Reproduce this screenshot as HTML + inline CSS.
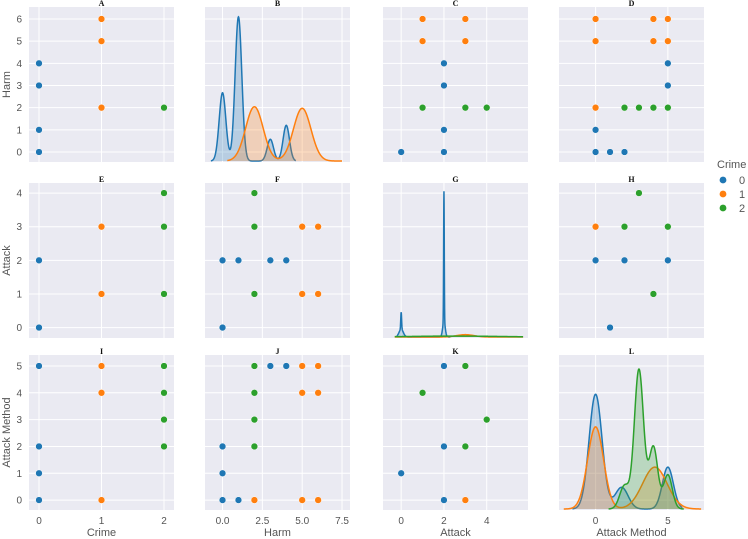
<!DOCTYPE html>
<html><head><meta charset="utf-8">
<style>
html,body{margin:0;padding:0;background:#fff;}
svg{display:block;font-family:"Liberation Sans",sans-serif;}
.tick{fill:#555;font-size:10px;}
.alab{fill:#555;font-size:11px;}
.ttl{font-family:"Liberation Serif",serif;font-weight:bold;font-size:8px;fill:#111;}
</style></head>
<body>
<svg id="chart" width="748" height="539" viewBox="0 0 748 539" xmlns="http://www.w3.org/2000/svg"></svg>
<script>
// ---- data ----
const crimeColors = ["#1f77b4","#ff7f0e","#2ca02c"];
const colNames = ["Crime","Harm","Attack","Attack Method"];
const rowNames = ["Harm","Attack","Attack Method"];
const colTicks = [[0,1,2],[0,2.5,5,7.5],[0,2,4],[0,5]];
const colTickLabels = [["0","1","2"],["0.0","2.5","5.0","7.5"],["0","2","4"],["0","5"]];
const rowTicks = [[0,1,2,3,4,5,6],[0,1,2,3,4],[0,1,2,3,4,5]];
const panelTitles = [["A","B","C","D"],["E","F","G","H"],["I","J","K","L"]];
// scatter points per panel: [x, y, crime]
const ptsA = [[0,0,0],[0,1,0],[0,3,0],[0,4,0],[1,2,1],[1,5,1],[1,6,1],[2,2,2]];
const ptsC = [[1,6,1],[3,6,1],[1,5,1],[3,5,1],[2,4,0],[2,3,0],[2,1,0],[0,0,0],[2,0,0],[1,2,2],[3,2,2],[4,2,2]];
const ptsD = [[0,6,1],[4,6,1],[5,6,1],[0,5,1],[4,5,1],[5,5,1],[0,2,1],[5,4,0],[5,3,0],[0,1,0],[0,0,0],[1,0,0],[2,0,0],[2,2,2],[3,2,2],[4,2,2],[5,2,2]];
const ptsE = [[0,2,0],[0,0,0],[1,3,1],[1,1,1],[2,4,2],[2,3,2],[2,1,2]];
const ptsF = [[2,4,2],[2,3,2],[2,1,2],[5,3,1],[6,3,1],[5,1,1],[6,1,1],[0,2,0],[1,2,0],[3,2,0],[4,2,0],[0,0,0]];
const ptsH = [[3,4,2],[0,3,1],[2,3,2],[5,3,2],[0,2,0],[2,2,0],[5,2,0],[4,1,2],[1,0,0]];
const ptsI = [[0,5,0],[0,2,0],[0,1,0],[0,0,0],[1,5,1],[1,4,1],[1,0,1],[2,5,2],[2,4,2],[2,3,2],[2,2,2]];
const ptsJ = [[2,5,2],[2,4,2],[2,3,2],[2,2,2],[3,5,0],[4,5,0],[0,2,0],[0,1,0],[0,0,0],[1,0,0],[5,5,1],[6,5,1],[5,4,1],[6,4,1],[2,0,1],[5,0,1],[6,0,1]];
const ptsK = [[2,5,0],[2,2,0],[0,1,0],[2,0,0],[3,5,2],[1,4,2],[4,3,2],[3,2,2],[3,0,1]];
// KDE components per crime: [center, peak density (fraction of panel height), sigma]
const kdeB = [
  [[0,0.44,0.21],[1,0.93,0.21],[3,0.14,0.2],[4,0.23,0.2]],
  [[2,0.35,0.55],[5,0.34,0.55]],
  []
];
const kdeG = [
  [[0,0.11,0.02],[0,0.05,0.1],[2,0.84,0.015],[2,0.1,0.06]],
  [[3,0.015,0.4]],
  [[2.5,0.006,2]]
];
const kdeL = [
  [[0,0.74,0.45],[1.8,0.14,0.45],[5,0.27,0.38]],
  [[0,0.53,0.55],[4.1,0.27,0.85]],
  [[2,0.15,0.33],[3,0.9,0.32],[4,0.4,0.3],[5,0.22,0.3]]
];
// ---- layout ----
const colX = [29,205,383,559], colW = 145;
const rowY = [7,183,355], rowH = 155;
const colDom = [[-0.16,2.16],[-1.1,8.0],[-0.85,5.93],[-2.53,7.5]];
const rowDom = [[-0.45,6.54],[-0.31,4.3],[-0.37,5.41]];
const svg = document.getElementById('chart');
const NS = "http://www.w3.org/2000/svg";
function mk(tag, attrs, parent){const e=document.createElementNS(NS,tag);for(const k in attrs)e.setAttribute(k,attrs[k]);(parent||svg).appendChild(e);return e;}
function sx(c,v){const d=colDom[c];return colX[c]+(v-d[0])/(d[1]-d[0])*colW;}
function sy(r,v){const d=rowDom[r];return rowY[r]+rowH-(v-d[0])/(d[1]-d[0])*rowH;}

for(let r=0;r<3;r++){for(let c=0;c<4;c++){
  const g=mk('g',{});
  
  
  const bg=mk('rect',{x:colX[c],y:rowY[r],width:colW,height:rowH,fill:'#EAEAF2'},g);
  
  
  colTicks[c].forEach(t=>{const x=sx(c,t);mk('line',{x1:x,x2:x,y1:rowY[r],y2:rowY[r]+rowH,stroke:'#fff','stroke-width':1},g);});
  rowTicks[r].forEach(t=>{const y=sy(r,t);mk('line',{x1:colX[c],x2:colX[c]+colW,y1:y,y2:y,stroke:'#fff','stroke-width':1},g);});
  const tt=mk('text',{x:colX[c]+colW/2,y:rowY[r]-1,'text-anchor':'middle',class:'ttl'},g);
  tt.textContent=panelTitles[r][c];
  
  
}}
function scatter(r,c,pts){
  pts.forEach(p=>{
    const m=mk('circle',{cx:sx(c,p[0]),cy:sy(r,p[1]),r:3.4,fill:crimeColors[p[2]],stroke:'#fff','stroke-width':0.5});
    
    
  });
}
scatter(0,0,ptsA);scatter(0,2,ptsC);scatter(0,3,ptsD);
scatter(1,0,ptsE);scatter(1,1,ptsF);scatter(1,3,ptsH);
scatter(2,0,ptsI);scatter(2,1,ptsJ);scatter(2,2,ptsK);

function kde(r,c,comps,ranges){
  const base=rowY[r]+rowH-1;
  comps.forEach((cs,k)=>{
    if(!cs.length)return;
    const rg=ranges[k];
    let d='';const N=400;
    for(let i=0;i<=N;i++){
      const v=rg[0]+(rg[1]-rg[0])*i/N;
      let s=0;cs.forEach(q=>{s+=q[1]*Math.exp(-0.5*Math.pow((v-q[0])/q[2],2));});
      const x=sx(c,v),y=base-s*rowH;
      d+=(i?'L':'M')+x.toFixed(2)+' '+y.toFixed(2);
    }
    const area=mk('path',{d:d+'L'+sx(c,rg[1])+' '+base+'L'+sx(c,rg[0])+' '+base+'Z',fill:crimeColors[k],'fill-opacity':0.25,stroke:'none'});
    
    
    const ln=mk('path',{d:d,fill:'none',stroke:crimeColors[k],'stroke-width':1.5});
    
    
  });
}
kde(0,1,kdeB,[[-0.73,4.6],[0.3,7.5],[0,0]]);
kde(1,2,kdeG,[[-0.2,2.3],[-0.3,5.7],[-0.3,5.7]]);
kde(2,3,kdeL,[[-1.6,6],[-2.2,7.3],[0.9,6.1]]);

// tick labels
for(let c=0;c<4;c++){
  colTicks[c].forEach((t,i)=>{
    const e=mk('text',{x:sx(c,t),y:524,'text-anchor':'middle',class:'tick'});
    e.textContent=colTickLabels[c][i];
    
    
  });
  const l=mk('text',{x:colX[c]+colW/2,y:536,'text-anchor':'middle',class:'alab'});
  l.textContent=colNames[c];
  
  
}
for(let r=0;r<3;r++){
  rowTicks[r].forEach(t=>{
    const e=mk('text',{x:22,y:sy(r,t)+3.5,'text-anchor':'end',class:'tick'});
    e.textContent=String(t);
    
    
  });
  const cy=rowY[r]+rowH/2;
  const l=mk('text',{x:0,y:0,'text-anchor':'middle',class:'alab',transform:'translate(10,'+cy+') rotate(-90)'});
  l.textContent=rowNames[r];
  
  
}
// legend
const lg=mk('g',{});


const lt=mk('text',{x:717,y:168,class:'alab'},lg);
lt.textContent='Crime';


[0,1,2].forEach(k=>{
  const y=180+k*14;
  const m=mk('circle',{cx:723,cy:y,r:3.4,fill:crimeColors[k]},lg);
  
  
  const t=mk('text',{x:739,y:y+4,class:'alab'},lg);
  t.textContent=String(k);
  
  
});
</script>
</body></html>
